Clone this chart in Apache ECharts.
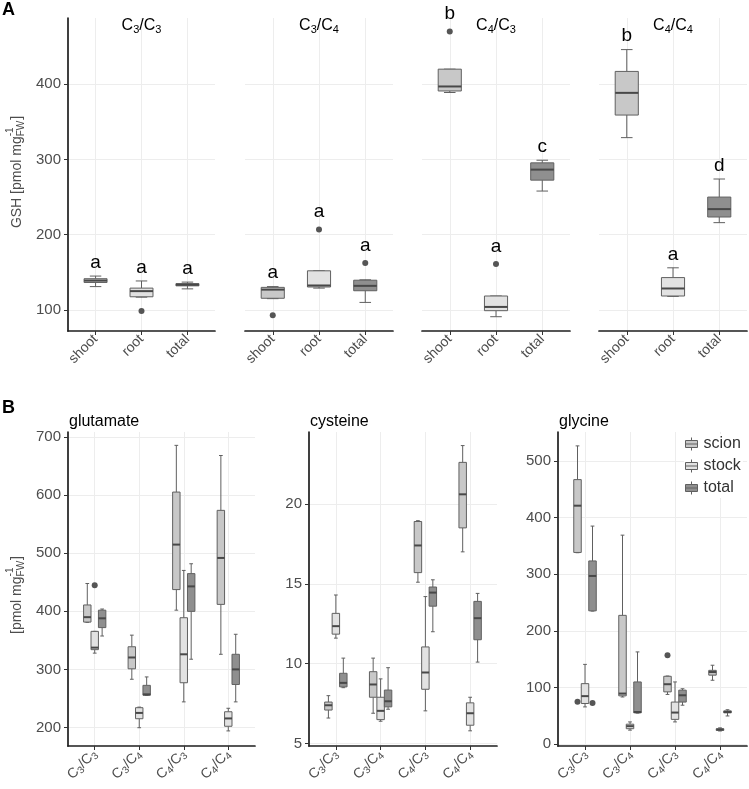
<!DOCTYPE html>
<html><head><meta charset="utf-8">
<script src="https://cdn.jsdelivr.net/npm/echarts@6/dist/echarts.min.js"></script>
<style>html,body{margin:0;padding:0;background:#fff}#c{width:749px;height:789px}</style>
</head><body><div id="c"></div>
<script>
// ================= DATA =================
// Panel A: GSH, facets = graft combinations, categories = tissue parts
const gshFacets = ['C3/C3', 'C3/C4', 'C4/C3', 'C4/C4'];
const gshParts = ['shoot', 'root', 'total'];
const gshTicks = [100, 200, 300, 400];
// boxplot stats [min, Q1, median, Q3, max] for shoot, root, total
const gshC3C3 = [[131, 136.5, 139, 141.5, 145], [117, 117.5, 125, 129, 138.5], [128, 132, 133.5, 135, 137]];
const gshC3C4 = [[115, 115.5, 127, 130, 131], [129, 130.5, 132.5, 152, 152], [110, 125.5, 132, 139.5, 140]];
const gshC4C3 = [[389, 391, 397, 420, 420], [91, 99, 104, 118.5, 118.5], [258, 272.5, 286.5, 295.5, 299]];
const gshC4C4 = [[329, 359, 388.5, 417, 446], [118, 118.5, 128.5, 143, 156], [216, 223.5, 234, 250, 274]];
// outliers [part index, value]
const gshOutC3C3 = [[1, 98.5]];
const gshOutC3C4 = [[0, 93], [1, 207], [2, 162.5]];
const gshOutC4C3 = [[0, 470], [1, 161]];
const gshOutC4C4 = [];
// significance letters per facet, per part
const gshLetters = [['a', 'a', 'a'], ['a', 'a', 'a'], ['b', 'a', 'c'], ['b', 'a', 'd']];

// Panel B: amino acids, categories = grafts, groups = tissues
const grafts = ['C3/C3', 'C3/C4', 'C4/C3', 'C4/C4'];
const tissues = ['scion', 'stock', 'total'];
const glutamateTicks = [200, 300, 400, 500, 600, 700];
const glutamateScion = [[381, 381.5, 390, 411, 448], [283, 301, 320.5, 339, 359], [402, 437.5, 515, 605.5, 686], [326, 412, 492, 574, 668.5]];
const glutamateStock = [[328, 334, 337.5, 365.5, 365.5], [199.5, 215, 225, 234, 235], [244, 277, 326, 389, 470.5], [194, 202, 215.5, 227, 233]];
const glutamateTotal = [[357.5, 372, 388, 402, 404], [255, 255.5, 257, 272.5, 287], [317.5, 400, 443, 465, 482], [244, 274, 300, 326, 360.5]];
const glutamateOut = [[0, 1, 445]]; // [graft, tissue, value]

const cysteineTicks = [5, 10, 15, 20];
const cysteineScion = [[6.6, 7.1, 7.4, 7.6, 8.0], [6.9, 7.9, 8.7, 9.5, 10.35], [15.1, 15.7, 17.4, 18.9, 18.95], [17.0, 18.5, 20.6, 22.6, 23.65]];
const cysteineStock = [[11.6, 11.85, 12.35, 13.15, 14.3], [6.4, 6.5, 7.05, 7.9, 9.05], [7.05, 8.4, 9.45, 11.05, 14.2], [5.8, 6.15, 6.9, 7.55, 7.9]];
const cysteineTotal = [[8.5, 8.55, 8.8, 9.4, 10.35], [7.15, 7.3, 7.65, 8.35, 9.75], [12.0, 13.6, 14.45, 14.8, 15.25], [10.1, 11.5, 12.85, 13.9, 14.4]];
const cysteineOut = [];

const glycineTicks = [0, 100, 200, 300, 400, 500];
const glycineScion = [[338, 338.5, 421, 467, 526.5], [83.5, 85.5, 89.5, 227.5, 369], [88, 92.5, 106, 120, 120.5], [113, 122, 127.5, 130.5, 139.5]];
const glycineStock = [[66, 72, 85, 107, 141], [25, 27.5, 32, 35.5, 39.5], [39.5, 44, 56, 74.5, 110], [23.5, 24.5, 26, 27.5, 29]];
const glycineTotal = [[235, 235.5, 297, 323.5, 385], [55, 55.5, 57, 110, 163], [69, 74.5, 86.5, 95.5, 98], [50, 55.5, 57, 59, 61]];
const glycineOut = [[0, 0, 75], [0, 2, 73], [2, 0, 157]];

// ================= STYLE =================
const FONT = "'Liberation Sans', Arial, Helvetica, sans-serif";
const TXT = '#4d4d4d';
const AXIS = '#1e1e1e';
const LINE = '#606060';
const MED = '#484848';
const GRIDC = '#ededed';
const partColors = ['#c8c8c8', '#e2e2e2', '#8f8f8f'];
const DODGE = 0.5 / 3;

const grids = [], xAxis = [], yAxis = [], series = [], graphic = [];

function richGraft(s) {
  return s.split(/(\d)/).filter(t => t).map(t => /\d/.test(t) ? '{s|' + t + '}' : '{n|' + t + '}').join('');
}
function richStyles(big, small, lh) {
  return {
    n: { fontSize: big, color: TXT, fontFamily: FONT, lineHeight: lh, verticalAlign: 'middle' },
    s: { fontSize: small, color: TXT, fontFamily: FONT, lineHeight: 10, verticalAlign: 'bottom' }
  };
}

function addPanel(g) {
  const gi = grids.length;
  grids.push({ left: g.left, top: g.top, width: g.width, height: g.height, containLabel: false, outerBoundsMode: 'none' });
  xAxis.push({
    gridIndex: gi, type: 'value', min: g.xmin, max: g.xmax,
    axisLine: { show: true, onZero: false, lineStyle: { color: AXIS, width: 1.7 } },
    axisTick: { show: true, customValues: g.xTicks, length: 4, lineStyle: { color: '#333', width: 1 } },
    axisLabel: { show: true, customValues: g.xTicks, rotate: 45, formatter: g.xFmt, fontSize: 14, color: TXT, fontFamily: FONT, margin: 6, rich: g.xRich },
    splitLine: { show: true, lineStyle: { color: GRIDC, width: 1 } }
  });
  yAxis.push({
    gridIndex: gi, type: 'value', min: g.ymin, max: g.ymax,
    axisLine: { show: g.showY, onZero: false, lineStyle: { color: AXIS, width: 1.7 } },
    axisTick: { show: g.showY, customValues: g.yTicks, length: 4, lineStyle: { color: '#333', width: 1 } },
    axisLabel: { show: g.showY, customValues: g.yTicks, fontSize: 15, color: TXT, fontFamily: FONT, margin: 7 },
    splitLine: { show: true, lineStyle: { color: GRIDC, width: 1 } }
  });
  return gi;
}

function makeRender(boxW, capW, colorFn, letterFn) {
  return function (params, api) {
    const x = api.value(0);
    const c = v => api.coord([x, v]);
    const pMin = c(api.value(1)), pQ1 = c(api.value(2)), pMed = c(api.value(3)), pQ3 = c(api.value(4)), pMax = c(api.value(5));
    const w = api.size([boxW, 0])[0], cw = api.size([capW, 0])[0];
    const cx = pMed[0];
    const ls = { stroke: LINE, lineWidth: 1 };
    const ch = [
      { type: 'line', shape: { x1: cx, y1: pMax[1], x2: cx, y2: pQ3[1] }, style: ls },
      { type: 'line', shape: { x1: cx, y1: pQ1[1], x2: cx, y2: pMin[1] }, style: ls },
      { type: 'line', shape: { x1: cx - cw / 2, y1: pMax[1], x2: cx + cw / 2, y2: pMax[1] }, style: ls },
      { type: 'line', shape: { x1: cx - cw / 2, y1: pMin[1], x2: cx + cw / 2, y2: pMin[1] }, style: ls },
      { type: 'rect', shape: { x: cx - w / 2, y: pQ3[1], width: w, height: Math.max(pQ1[1] - pQ3[1], 0.5) }, style: { fill: colorFn(params.dataIndex), stroke: LINE, lineWidth: 1 } },
      { type: 'line', shape: { x1: cx - w / 2, y1: pMed[1], x2: cx + w / 2, y2: pMed[1] }, style: { stroke: MED, lineWidth: 2 } }
    ];
    if (letterFn) {
      const pTop = c(api.value(6));
      const gap = api.value(7) ? 8 : 4;
      ch.push({ type: 'text', x: cx, y: pTop[1] - gap, style: { text: letterFn(params.dataIndex), fontSize: 19, fontFamily: FONT, fill: '#000', align: 'center', verticalAlign: 'bottom', textAlign: 'center', textVerticalAlign: 'bottom' } });
    }
    return { type: 'group', children: ch };
  };
}

// ---------- Panel A ----------
const gshStats = [gshC3C3, gshC3C4, gshC4C3, gshC4C4];
const gshOuts = [gshOutC3C3, gshOutC3C4, gshOutC4C3, gshOutC4C4];
const aLefts = [68, 245, 422, 599];
const aWidths = [147, 148, 148, 148];
gshFacets.forEach((fname, f) => {
  const gi = addPanel({
    left: aLefts[f], top: 18, width: aWidths[f], height: 313,
    xmin: 0.4, xmax: 3.6, xTicks: [1, 2, 3], xFmt: v => gshParts[Math.round(v) - 1],
    ymin: 72, ymax: 488, yTicks: gshTicks, showY: f === 0
  });
  const outs = gshOuts[f];
  const data = gshStats[f].map((s, p) => {
    const ov = outs.filter(o => o[0] === p).map(o => o[1]);
    const top = Math.max(s[4], ...ov);
    return [p + 1, s[0], s[1], s[2], s[3], s[4], top, top > s[4] ? 1 : 0];
  });
  series.push({
    type: 'custom', xAxisIndex: gi, yAxisIndex: gi, data, silent: true, clip: false, z: 2,
    encode: { x: 0, y: [1, 2, 3, 4, 5] },
    renderItem: makeRender(0.5, 0.25, i => partColors[i], i => gshLetters[f][i])
  });
  series.push({
    type: 'scatter', xAxisIndex: gi, yAxisIndex: gi, silent: true, z: 3,
    data: outs.map(o => [o[0] + 1, o[1]]), symbolSize: 6, itemStyle: { color: '#555', opacity: 1 }
  });
  graphic.push({
    type: 'text', x: aLefts[f] + aWidths[f] / 2, y: 26, z: 10,
    style: { text: richGraft(fname), rich: richStyles(16, 11, 18), align: 'center', verticalAlign: 'middle', textAlign: 'center', textVerticalAlign: 'middle' }
  });
});

// ---------- Panel B ----------
const aminoNames = ['glutamate', 'cysteine', 'glycine'];
const aminoStats = [
  [glutamateScion, glutamateStock, glutamateTotal],
  [cysteineScion, cysteineStock, cysteineTotal],
  [glycineScion, glycineStock, glycineTotal]
];
const aminoOuts = [glutamateOut, cysteineOut, glycineOut];
const aminoTicks = [glutamateTicks, cysteineTicks, glycineTicks];
const aminoRange = [[168, 709], [4.85, 24.5], [-3, 551]];
const bLefts = [68, 309, 558];
const bWidths = [187, 188, 189];
aminoNames.forEach((name, k) => {
  const gi = addPanel({
    left: bLefts[k], top: 432, width: bWidths[k], height: 314,
    xmin: 0.4, xmax: 4.6, xTicks: [1, 2, 3, 4], xFmt: v => richGraft(grafts[Math.round(v) - 1]),
    xRich: richStyles(14, 10, 17),
    ymin: aminoRange[k][0], ymax: aminoRange[k][1], yTicks: aminoTicks[k], showY: true
  });
  aminoStats[k].forEach((st, t) => {
    series.push({
      type: 'custom', name: tissues[t], xAxisIndex: gi, yAxisIndex: gi, silent: true, clip: false, z: 2,
      itemStyle: { color: partColors[t] },
      data: st.map((s, g) => [g + 1 + (t - 1) * DODGE, s[0], s[1], s[2], s[3], s[4]]),
      encode: { x: 0, y: [1, 2, 3, 4, 5] },
      renderItem: makeRender(DODGE, DODGE / 2, () => partColors[t], null)
    });
  });
  series.push({
    type: 'scatter', xAxisIndex: gi, yAxisIndex: gi, silent: true, z: 3,
    data: aminoOuts[k].map(o => [o[0] + 1 + (o[1] - 1) * DODGE, o[2]]), symbolSize: 6, itemStyle: { color: '#555', opacity: 1 }
  });
  graphic.push({
    type: 'text', x: bLefts[k] + 1, y: 422, z: 10,
    style: { text: name, fontSize: 16, fontFamily: FONT, fill: '#000', align: 'left', verticalAlign: 'middle', textAlign: 'left', textVerticalAlign: 'middle' }
  });
});

// ---------- y-axis names (rotated, with stacked sub/superscript) ----------
const mctx = document.createElement('canvas').getContext('2d');
function tw(t, size) { mctx.font = size + 'px ' + FONT; return mctx.measureText(t).width; }
function yName(prefix, gx, gy) {
  const w1 = tw(prefix, 14), ws = tw('FW', 10), wp = tw('-1', 10), w3 = tw(']', 14);
  const W = w1 + Math.max(ws, wp) + w3 + 1;
  const x0 = -W / 2;
  const st = (t, s) => ({ text: t, fontSize: s, fontFamily: FONT, fill: TXT, align: 'left', verticalAlign: 'middle', textAlign: 'left', textVerticalAlign: 'middle' });
  return {
    type: 'group', x: gx, y: gy, rotation: Math.PI / 2, z: 10,
    children: [
      { type: 'text', x: x0, y: 0, style: st(prefix, 14) },
      { type: 'text', x: x0 + w1, y: -7, style: st('-1', 10) },
      { type: 'text', x: x0 + w1, y: 4.5, style: st('FW', 10) },
      { type: 'text', x: x0 + w1 + Math.max(ws, wp) + 1, y: 0, style: st(']', 14) }
    ]
  };
}
graphic.push(yName('GSH [pmol mg', 17, 172));
graphic.push(yName('[pmol mg', 17, 595));

// panel letters
graphic.push({ type: 'text', x: 2, y: 10, style: { text: 'A', fontSize: 18, fontWeight: 'bold', fontFamily: FONT, fill: '#000', align: 'left', verticalAlign: 'middle', textAlign: 'left', textVerticalAlign: 'middle' } });
graphic.push({ type: 'text', x: 2, y: 408, style: { text: 'B', fontSize: 18, fontWeight: 'bold', fontFamily: FONT, fill: '#000', align: 'left', verticalAlign: 'middle', textAlign: 'left', textVerticalAlign: 'middle' } });

const chart = echarts.init(document.getElementById('c'), null, { renderer: 'canvas', width: 749, height: 789 });
chart.setOption({
  animation: false,
  backgroundColor: '#fff',
  textStyle: { fontFamily: FONT },
  grid: grids, xAxis, yAxis, series, graphic,
  legend: {
    data: tissues, orient: 'vertical', left: 684, top: 434, itemWidth: 14, itemHeight: 13, itemGap: 6,
    icon: 'path://M7,0 L7,3 M1,3 L13,3 L13,10 L1,10 Z M1,6.5 L13,6.5 M7,10 L7,13',
    itemStyle: { borderColor: LINE, borderWidth: 1 },
    textStyle: { fontSize: 16, color: '#333', fontFamily: FONT },
    backgroundColor: '#fff', padding: [2, 2, 2, 1], selectedMode: false
  }
});
</script></body></html>
